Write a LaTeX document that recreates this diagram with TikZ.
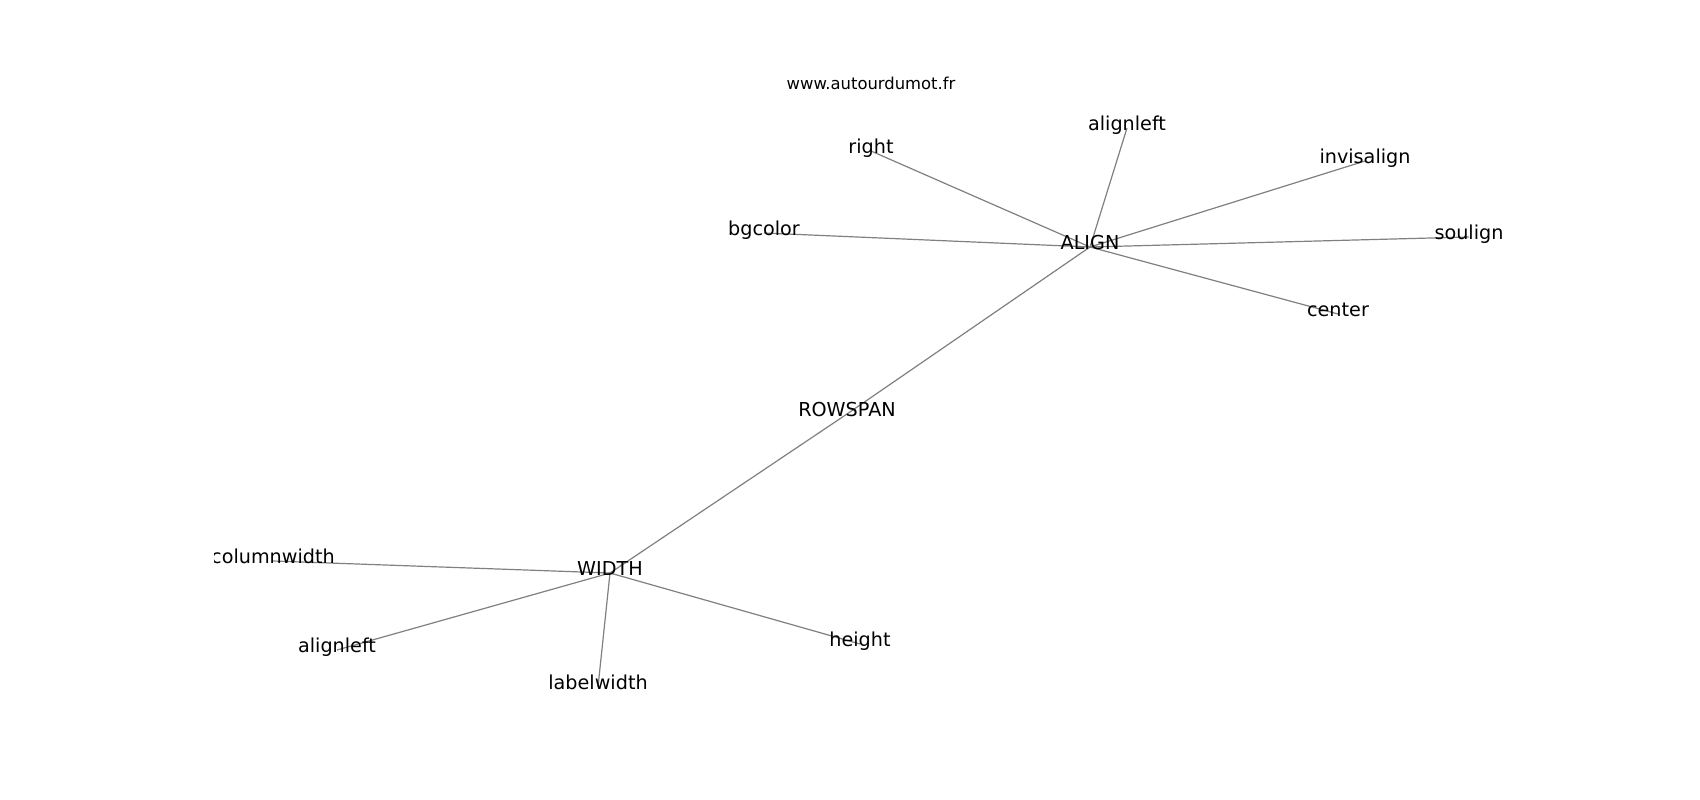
\documentclass[tikz,border=0pt]{standalone}
\usepackage{fontspec}
\setmainfont{DejaVu Sans}
\usetikzlibrary{backgrounds}
\tikzset{
  word/.style={
    inner sep=0pt,
    text height=0.76em,
    text depth=0.24em,
    font=\fontsize{19.2}{23}\selectfont,
  },
  site/.style={
    inner sep=0pt,
    anchor=base,
    font=\fontsize{16.4}{20}\selectfont,
  },
  edge/.style={
    draw=gray,
    line width=1.2pt,
  },
}

\begin{document}
\begin{tikzpicture}[x=1pt,y=-1pt]
  \useasboundingbox (0,0) rectangle (1700,800);
  \node[site] (title) at (871,89) {www.autourdumot.fr};
  \begin{scope}
    \clip (214,96) rectangle (1530,712);
    \node[word] (align) at (1090,247) {ALIGN};
    \node[word] (right) at (871,151) {right};
    \node[word] (alignleftA) at (1127,128) {alignleft};
    \node[word] (invisalign) at (1365,161) {invisalign};
    \node[word] (bgcolor) at (764,233) {bgcolor};
    \node[word] (soulign) at (1469,237) {soulign};
    \node[word] (centre) at (1338,314) {center};
    \node[word] (rowspan) at (847,414) {ROWSPAN};
    \node[word] (width) at (610,573) {WIDTH};
    \node[word] (columnwidth) at (273,561) {columnwidth};
    \node[word] (alignleftB) at (337,650) {alignleft};
    \node[word] (height) at (860,644) {height};
    \node[word] (labelwidth) at (598,687) {labelwidth};
  \end{scope}
  \begin{scope}[on background layer]
    \fill[white] (0,0) rectangle (1700,800);
    \draw[edge] (align.center) -- (right.center);
    \draw[edge] (align.center) -- (alignleftA.center);
    \draw[edge] (align.center) -- (invisalign.center);
    \draw[edge] (align.center) -- (bgcolor.center);
    \draw[edge] (align.center) -- (soulign.center);
    \draw[edge] (align.center) -- (centre.center);
    \draw[edge] (align.center) -- (rowspan.center);
    \draw[edge] (rowspan.center) -- (width.center);
    \draw[edge] (width.center) -- (columnwidth.center);
    \draw[edge] (width.center) -- (alignleftB.center);
    \draw[edge] (width.center) -- (height.center);
    \draw[edge] (width.center) -- (labelwidth.center);
  \end{scope}
\end{tikzpicture}
\end{document}
